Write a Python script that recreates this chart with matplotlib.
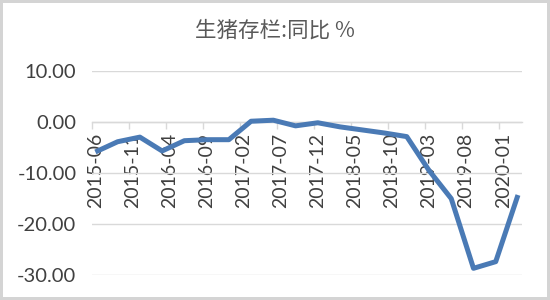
import matplotlib
matplotlib.use("Agg")
import matplotlib.pyplot as plt
from matplotlib.ticker import FixedLocator, FuncFormatter

# Quarterly year-on-year change of hog inventory (%)
months = ["2015-06", "2015-09", "2015-12", "2016-03", "2016-06", "2016-09",
          "2016-12", "2017-03", "2017-06", "2017-09", "2017-12", "2018-03",
          "2018-06", "2018-09", "2018-12", "2019-03", "2019-06", "2019-09",
          "2019-12", "2020-03"]
values = [-5.9, -3.9, -3.0, -5.7, -3.7, -3.5,
          -3.5, 0.1, 0.3, -0.8, -0.2, -1.0,
          -1.6, -2.2, -2.9, -9.5, -15.0, -28.6,
          -27.3, -14.3]
tick_labels = ["2015-06", "2015-11", "2016-04", "2016-09", "2017-02", "2017-07",
               "2017-12", "2018-05", "2018-10", "2019-03", "2019-08", "2020-01"]
y_ticks = [10, 0, -10, -20, -30]
title = "生猪存栏:同比 %"


def month_index(s, base="2015-06"):
    y, m = map(int, s.split("-"))
    by, bm = map(int, base.split("-"))
    return (y - by) * 12 + (m - bm)


x = [month_index(m) for m in months]
label_pos = [month_index(t) for t in tick_labels]
last = month_index(months[-1])

plt.rcParams["font.family"] = ["Lato", "DejaVu Sans"]

fig = plt.figure(figsize=(5.5, 3.0), dpi=100)
fig.patch.set_facecolor("white")
fig.patch.set_edgecolor("#D4D4D4")
fig.patch.set_linewidth(3)

ax = fig.add_axes([0.1667, 0.0817, 0.7818, 0.6833])
ax.set_facecolor("white")

ax.plot(x, values, color="#4A7AB5", lw=3.6, solid_joinstyle="round",
        solid_capstyle="butt", zorder=3)

ax.set_xlim(-0.5, last + 0.5)
ax.set_ylim(min(y_ticks), max(y_ticks))

# horizontal gridlines
ax.yaxis.set_major_locator(FixedLocator(y_ticks))
ax.yaxis.set_major_formatter(FuncFormatter(lambda v, p: f"{v:.2f}"))
ax.grid(axis="y", color="#D9D9D9", lw=1.0, zorder=0)
ax.tick_params(axis="y", length=0, pad=11, labelsize=14.5, labelcolor="#404040")

# category axis crossing at zero
for s in ("left", "right", "top"):
    ax.spines[s].set_visible(False)
ax.spines["bottom"].set_position(("data", 0))
ax.spines["bottom"].set_color("#D9D9D9")
ax.spines["bottom"].set_linewidth(1.0)

ax.set_xticks(label_pos)
ax.set_xticklabels(tick_labels, rotation=90, fontsize=14, color="#404040")
ax.tick_params(axis="x", which="major", length=0, pad=8)
ax.set_xticks([p - 0.5 for p in label_pos], minor=True)
ax.tick_params(axis="x", which="minor", length=5, width=1.0, color="#D9D9D9",
               direction="out")

fig.text(0.5, 0.897, title, ha="center", va="center", fontsize=15.5,
         color="#595959", family=["Noto Sans CJK SC", "DejaVu Sans"])

fig.savefig("out.png", dpi=100, facecolor=fig.get_facecolor(),
            edgecolor=fig.get_edgecolor())
